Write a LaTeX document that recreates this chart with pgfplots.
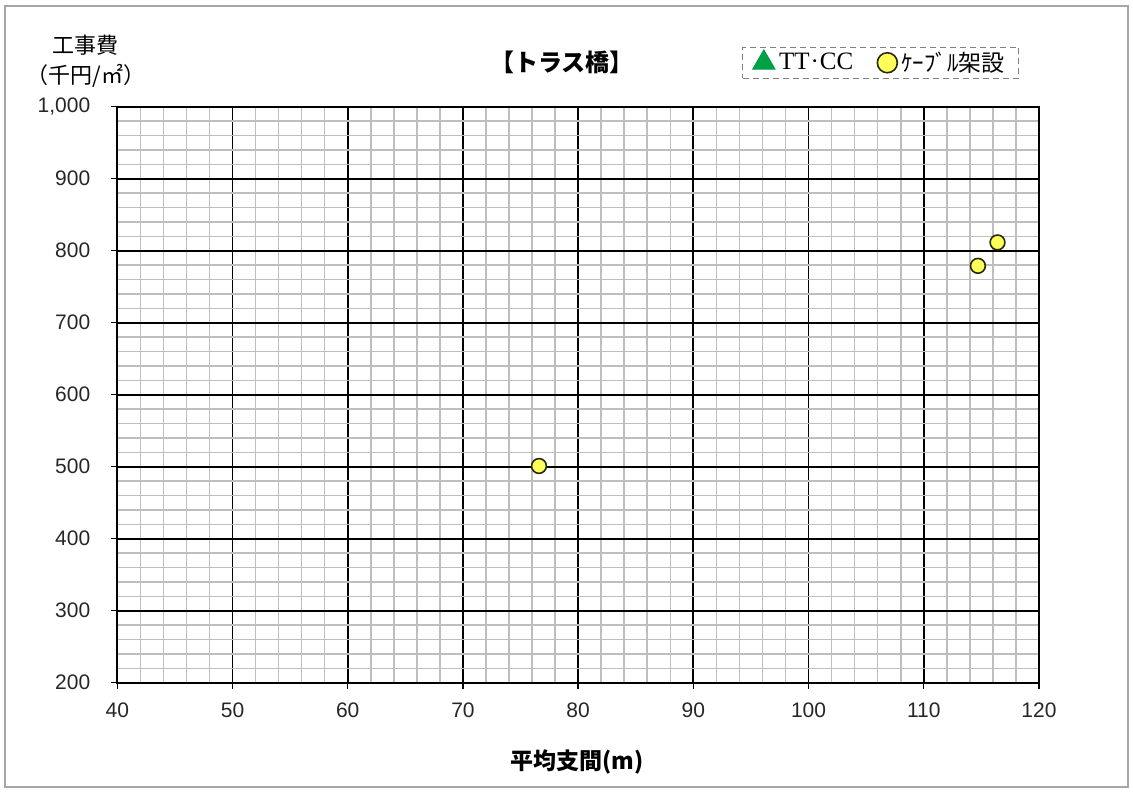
\documentclass[border=0pt]{standalone}
\usepackage{fontspec}
\usepackage{pgfplots}
\pgfplotsset{compat=1.18}
\setmainfont{Liberation Sans}
\newfontfamily\jp{Noto Sans CJK JP}
\newfontfamily\serif{Liberation Serif}
\definecolor{ptfill}{RGB}{255,255,90}
\definecolor{ptdraw}{RGB}{40,40,10}
\definecolor{trigreen}{RGB}{0,160,70}
\definecolor{minorgrid}{RGB}{190,190,190}
\newcommand{\px}[2]{({(#1-117.3)*0.5pt},{(682.7-#2)*0.5pt})}
\begin{document}
\begin{tikzpicture}
\useasboundingbox \px{0}{0} rectangle \px{1133}{792};
\draw[gray!70, line width=0.8pt] \px{5}{6} rectangle \px{1128}{787};
\begin{axis}[
  at={(0,0)}, anchor=south west,
  scale only axis, width=460.85pt, height=288pt,
  xmin=40, xmax=120, ymin=200, ymax=1000,
  xtick distance=10, ytick distance=100,
  minor x tick num=4, minor y tick num=4,
  xtick pos=bottom, ytick pos=left,
  grid=both,
  major grid style={black, line width=0.9pt},
  minor grid style={minorgrid, line width=0.8pt},
  axis line style={black, line width=0.9pt},
  tick align=outside, major tick length=3pt, minor tick length=0pt,
  tick style={black, line width=0.7pt},
  ticklabel style={font=\fontsize{10.5}{12}\selectfont, text=black!85},
  /pgf/number format/assume math mode=true,
  /pgf/number format/1000 sep={,},
  xticklabel style={yshift=-3.5pt},
  yticklabel style={xshift=-7pt},
  legend columns=2,
  legend style={at={(rel axis cs:0.678,1.1036)}, anchor=north west,
    draw=gray, densely dashed, fill=white, inner xsep=5pt, inner ysep=0pt,
    font=\fontsize{11.5}{13}\selectfont,
    /tikz/every even column/.append style={column sep=10pt}},
  legend cell align=left,
  clip=false,
]
\addlegendimage{only marks, mark=triangle*, mark size=6.5pt, mark options={fill=trigreen, draw=trigreen, solid}}
\addlegendentry{\serif\fontsize{12.5}{14}\selectfont TT\kern0.5pt·\kern0.5pt CC}
\addplot[only marks, mark=*, mark size=3.7pt, mark options={fill=ptfill, draw=ptdraw, line width=0.8pt, solid},
  legend image post style={mark size=5pt}]
  coordinates {(76.6,501) (114.7,779) (116.4,811.5)};
\addlegendentry{\jp ｹｰﾌﾞﾙ架設}
\end{axis}
\node[font=\jp\fontsize{11}{12}\selectfont] at \px{85}{45} {工事費};
\node[font=\jp\fontsize{11}{12}\selectfont] at \px{86}{76} {（千円/㎡）};
\node[font=\jp\bfseries\fontsize{12}{14}\selectfont] at \px{562}{62} {【トラス橋】};
\node[font=\jp\bfseries\fontsize{11.5}{13}\selectfont] at \px{577}{762} {平均支間(m)};
\end{tikzpicture}
\end{document}
